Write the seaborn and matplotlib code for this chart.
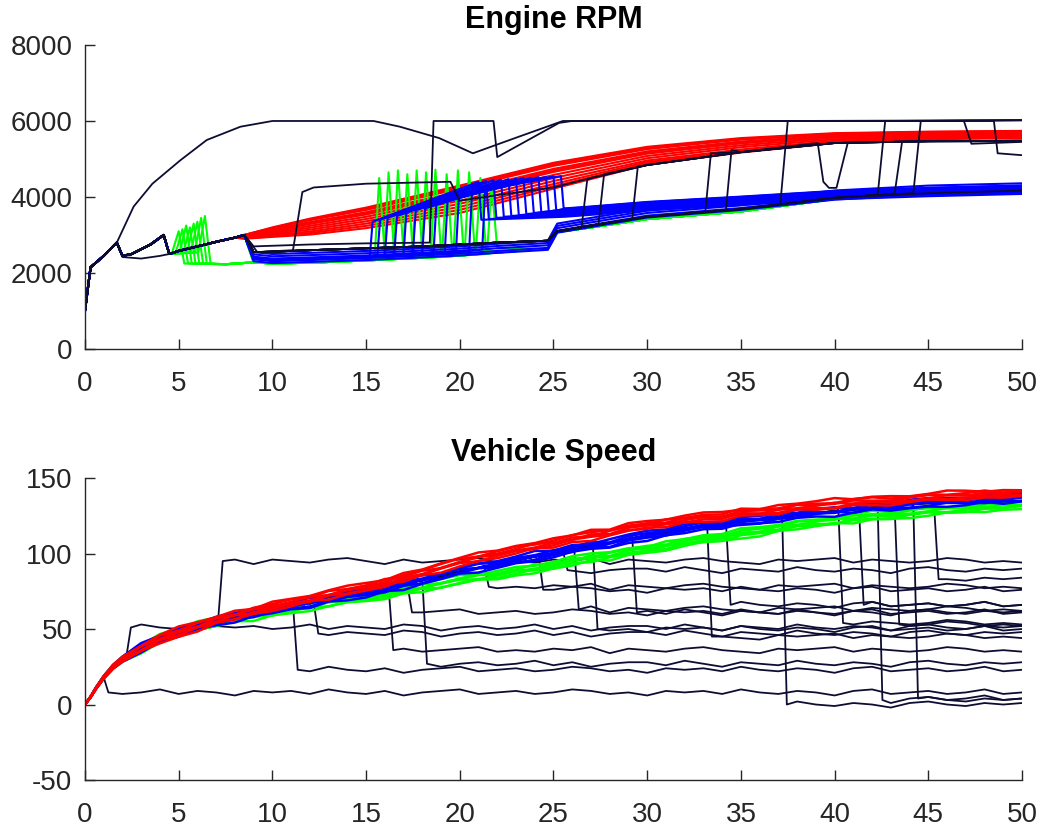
import pandas as pd
import seaborn as sns
import matplotlib.pyplot as plt

# ---------------- Engine RPM data ----------------
# shared launch path: gear 1 -> 2 -> 3
path_t = [0.0, 0.3, 1.0, 1.7, 2.0, 2.5, 3.5, 4.2, 4.5, 5.0, 6.0, 7.0, 8.0, 8.5]
path_rpm = [1000, 2150, 2450, 2800, 2450, 2500, 2750, 3000, 2500, 2580, 2700, 2820, 2930, 3000]

# gear 4 band
low_t = [9.0, 10, 12, 15, 18, 20, 22, 24.7, 25.2, 27, 30, 35, 40, 45, 50]
low_green = [2280, 2250, 2270, 2330, 2400, 2460, 2540, 2640, 3080, 3200, 3420, 3620, 3950, 4080, 4140]
low_blue = [2400, 2350, 2380, 2430, 2500, 2550, 2620, 2700, 3150, 3300, 3550, 3750, 4020, 4150, 4210]
low_dark = [2550, 2560, 2600, 2650, 2700, 2750, 2800, 2850, 3100, 3250, 3480, 3680, 3980, 4100, 4170]
low_blue_off = [-90, -40, 30, 90, 150]

# blue runs after the kick-down return
ret_t = [25.6, 27, 30, 35, 40, 45, 50]
ret_blue = [3650, 3700, 3820, 3960, 4110, 4190, 4250]
ret_off = [-170, -140, -110, -80, -50, -20, 0, 10, 20, 30, 40, 50]

# red runs that stay in gear 3
red_t = [8.5, 10, 12, 15, 20, 25, 30, 35, 40, 45, 50]
red_rpm = [
    [3000, 3200, 3430, 3720, 4300, 4900, 5320, 5550, 5680, 5720, 5740],
    [3000, 3185, 3410, 3690, 4260, 4860, 5290, 5530, 5665, 5710, 5730],
    [3000, 3170, 3390, 3660, 4220, 4820, 5260, 5510, 5650, 5700, 5720],
    [2990, 3140, 3340, 3600, 4140, 4740, 5200, 5460, 5620, 5680, 5700],
    [2985, 3125, 3315, 3570, 4100, 4700, 5170, 5435, 5605, 5665, 5690],
    [2980, 3110, 3290, 3540, 4060, 4660, 5140, 5410, 5590, 5650, 5680],
    [2970, 3080, 3240, 3480, 3980, 4580, 5080, 5360, 5560, 5620, 5650],
    [2960, 3050, 3190, 3420, 3900, 4500, 5020, 5310, 5520, 5590, 5620],
    [2940, 3020, 3140, 3360, 3820, 4420, 4960, 5250, 5480, 5560, 5600],
    [2920, 2990, 3090, 3300, 3740, 4340, 4920, 5210, 5450, 5540, 5570],
    [2910, 2970, 3050, 3240, 3660, 4280, 4880, 5190, 5430, 5530, 5560],
    [2900, 2950, 3010, 3180, 3580, 4220, 4850, 5170, 5420, 5520, 5550],
]

# green saw-tooth shifts
green_early_t = [5.0, 5.2, 5.4, 5.6, 5.8, 6.0, 6.2, 6.4]
green_early_peak = [3100, 3150, 3250, 3200, 3300, 3350, 3450, 3500]
green_mid_t = [15.7, 16.2, 16.7, 17.2, 17.7, 18.2, 18.7, 19.3, 19.9, 20.5, 21.1, 21.7]
green_mid_peak = [4500, 4650, 4700, 4600, 4700, 4650, 4720, 4600, 4700, 4650, 4500, 4300]
green_mid_base = [2350, 2360, 2370, 2380, 2390, 2400, 2410, 2420, 2440, 2460, 2480, 2500]

# blue kick-downs
blue_up_t = [15.2, 15.6, 16.0, 16.5, 17.0, 17.5, 18.0, 18.6, 19.2, 19.8, 20.5, 21.2]
blue_up_from = [2440, 2450, 2460, 2470, 2490, 2510, 2530, 2550, 2560, 2580, 2600, 2620]
blue_up_to = [3350, 3400, 3450, 3500, 3600, 3650, 3700, 3800, 3900, 4000, 4100, 4200]
blue_down_t = [21.0, 21.4, 21.8, 22.2, 22.6, 23.0, 23.4, 23.8, 24.2, 24.6, 25.0, 25.4]
blue_top = [4400, 4420, 4440, 4450, 4470, 4480, 4500, 4500, 4520, 4530, 4540, 4550]
blue_down_to = [3400, 3420, 3450, 3480, 3500, 3520, 3550, 3580, 3600, 3620, 3640, 3660]

# dark runs
edge_t = [25, 27, 30, 35, 40, 45, 50]
edge_rpm = [4250, 4500, 4840, 5180, 5420, 5470, 5480]
arc_t = [2.6, 3.6, 5.1, 6.5, 8.3, 10.0, 15.4, 16.8, 18.9, 20.7, 23.0, 25.5, 48.5, 48.7, 50]
arc_rpm = [3750, 4350, 4970, 5500, 5850, 6000, 6000, 5850, 5550, 5150, 5560, 6000, 6000, 5150, 5100]
jump_t = [26.5, 27.4, 29.2, 33.1, 34.2]
jump_from = [3200, 3270, 3420, 3600, 3650]
jump_to = [4450, 4600, 4800, 5150, 5240]

# ---------------- Vehicle speed data ----------------
sp_t = [0, 0.3, 0.6, 1, 1.5, 2, 3, 4, 5, 6, 7, 8, 9, 10, 11, 12, 13, 14, 15, 16, 17, 18,
        19, 20, 21, 22, 23, 24, 25, 26, 27, 28, 29, 30, 31, 32, 33, 34, 35, 36, 37, 38,
        39, 40, 41, 42, 43, 44, 45, 46, 47, 48, 49, 50]
red_speed = [0, 5, 11, 18, 25, 30, 37, 43, 48, 52, 56, 59, 62, 65, 67.5, 70, 72.5, 75, 78,
             81, 84, 87.5, 91, 94, 97, 100, 102.5, 105, 107, 109.5, 112, 114.5, 117, 119,
             120.5, 122, 123.5, 125, 127, 128, 129, 130.5, 131.5, 133, 134, 134.5, 135.5,
             136, 137, 138, 138.5, 139, 139.5, 140]
blue_speed = [0, 5, 11, 18, 25, 30, 37, 43, 48, 52, 55, 58, 60.5, 63, 65, 67, 69.5, 71.5,
              74, 77, 79.5, 82.5, 85, 88, 90.5, 93, 95.5, 98, 100, 102.5, 105, 107, 109.5,
              112, 114, 116, 118, 119.5, 121, 122.5, 124, 125.5, 127, 128, 129, 130.5,
              131.5, 132.5, 133, 134, 134.5, 135.5, 136, 137]
green_speed = [0, 5, 11, 18, 25, 30, 37, 43, 48, 52, 55, 57, 59, 61, 63, 65, 67, 69, 71,
               73.5, 75.5, 77.5, 80, 82, 84, 86, 88, 90, 92, 94.5, 97, 99, 101, 103, 105,
               107, 109, 111, 113, 115, 117, 118.5, 120, 121.5, 123, 124.5, 125.5, 126.5,
               127.5, 128.5, 129.5, 130.5, 131.5, 132.5]
band_off = [2.5, 1.5, 0.5, -0.5, -1.5, -2.5]

drop_t = [1.0, 2.2, 7.1, 11.1, 12.2, 16.2, 17.2, 18.0, 21.3, 24.2, 25.5, 26.1,
          27.1, 29.2, 33.2, 34.2, 37.2, 40.2, 41.3, 42.3, 43.2, 44.2, 45.3]
drop_from = [18, 31, 55, 66, 68, 78, 80, 83, 92, 99, 102, 104,
             106, 111, 119, 121, 126, 129, 130, 131, 132, 132, 133]
drop_level = [8, 51, 95, 23, 47, 36, 61, 27, 78, 76, 89, 63,
              50, 61, 45, 66, 0, 54, 66, 3, 53, 4, 83]
sec = list(range(51))
wig_a = [0, 1, -1, 0, 2, -1, 1, 0, -2, 1, 0, 1, -1, 2, 0, -1, 1, -2, 0, 1, 2, -1, 0, 1, -1,
         0, 2, 1, -1, 0, -2, 1, 0, 1, -1, 2, 0, -1, 1, 0, -2, 1, 2, -1, 0, 1, -1, 0, 2, -1, 0]
wig_b = [1, -1, 0, 2, 0, -1, -2, 1, 0, 1, -1, 0, 2, -1, 1, 0, -1, 2, 1, -2, 0, 1, -1, 0, 2,
         -1, 1, -2, 0, 1, 1, -1, 2, 0, -2, 1, 0, -1, 2, 0, -1, 1, 0, -2, 1, 2, 0, -1, 1, 0, 1]
wig_c = [-1, 0, 1, -1, 1, 2, 0, -1, 1, -2, 1, 0, -1, 1, 2, 0, -2, 1, -1, 0, 1, 2, -1, 0, -1,
         1, 0, 2, -2, 1, 0, -1, 1, 2, 0, -1, -2, 1, 0, 1, 2, -1, 1, 0, -1, 0, 2, 1, -1, 0, -1]
wiggles = [wig_a, wig_b, wig_c]

colors = {'dark': '#0d0d33', 'red': '#ff0000', 'green': '#00ff00', 'blue': '#0000ff'}

rows = []


def add(panel, kind, xs, ys):
    rows.append(pd.DataFrame({'panel': panel, 'kind': kind, 'run': f'{panel}{len(rows)}',
                              'x': list(xs), 'y': list(ys)}))


def part(ts, vs, lo, hi):
    pts = [(t, v) for t, v in zip(ts, vs) if lo < t < hi]
    return [p[0] for p in pts], [p[1] for p in pts]


# ---- RPM lines ----
for row in red_rpm:
    add('rpm', 'red', path_t[:-1] + red_t, path_rpm[:-1] + row)

for i in range(len(green_mid_t)):
    if i < len(green_early_t):
        te = green_early_t[i]
        xs = path_t[:9] + [te - 0.35, te, te + 0.3, 7.5]
        ys = path_rpm[:9] + [2540, green_early_peak[i], 2250, 2230]
    else:
        xs = path_t[:]
        ys = path_rpm[:]
    tm = green_mid_t[i]
    a, b = part(low_t, low_green, 0, tm - 0.25)
    c, d = part(low_t, low_green, tm + 0.3, 99)
    add('rpm', 'green', xs + a + [tm - 0.25, tm, tm + 0.3] + c,
        ys + b + [green_mid_base[i], green_mid_peak[i], green_mid_base[i] + 150] + d)

for o in low_blue_off:
    add('rpm', 'blue', path_t + low_t, path_rpm + [v + o for v in low_blue])
for i in range(len(blue_up_t)):
    tu, td = blue_up_t[i], blue_down_t[i]
    a, b = part(low_t, low_blue, 0, tu)
    c, d = part(ret_t, ret_blue, td + 0.2, 99)
    add('rpm', 'blue', path_t + a + [tu, tu + 0.15, td, td + 0.15] + c,
        path_rpm + b + [blue_up_from[i], blue_up_to[i], blue_top[i], blue_down_to[i]]
        + [v + ret_off[i] for v in d])

# dark runs
add('rpm', 'dark', path_t[:4] + arc_t, path_rpm[:4] + arc_rpm)
e_t, e_v = part(edge_t, edge_rpm, 22.5, 99)
add('rpm', 'dark', path_t[:4] + [2.0, 3.0, 4.0, 4.5] + path_t[9:] +
    [9.2, 11.1, 11.6, 12.2, 15, 19.5, 20.0, 22] + e_t,
    path_rpm[:4] + [2420, 2380, 2450, 2500] + path_rpm[9:] +
    [2550, 2600, 4130, 4250, 4350, 4400, 3900, 4050] + e_v)
add('rpm', 'dark', path_t + [9.0, 12, 15, 18.4, 18.6, 21.8, 22.0, 25.3, 26, 46.9, 47.3, 50],
    path_rpm + [2700, 2750, 2780, 2800, 6000, 6000, 5050, 5950, 6000, 6000, 5400, 5450])
for i in range(len(jump_t)):
    t = jump_t[i]
    a, b = part(low_t, low_dark, 0, t)
    if i == 0:
        c, d = part(edge_t, edge_rpm, t + 0.3, 39.1)
        c += [39.1, 39.4, 39.7, 40.1, 40.7, 45, 50]
        d += [5420, 4400, 4240, 4240, 5420, 5470, 5480]
    else:
        c, d = part(edge_t, edge_rpm, t + 0.3, 99)
    add('rpm', 'dark', path_t + a + [t, t + 0.3] + c, path_rpm + b + [jump_from[i], jump_to[i]] + d)
for t, v0, v1 in [(37.1, 3800, 6000), (42.3, 4060, 6000), (43.2, 4080, 5450), (44.2, 4100, 6000)]:
    a, b = part(low_t, low_dark, 0, t)
    add('rpm', 'dark', path_t + a + [t, t + 0.4, 50], path_rpm + b + [v0, v1, v1 + 20])
add('rpm', 'dark', path_t + low_t, path_rpm + low_dark)

# ---- speed lines ----
for i in range(len(drop_t)):
    t, w = drop_t[i], wiggles[i % 3]
    a, b = part(sp_t, blue_speed, -1, t)
    xs = a + [t, t + 0.25]
    ys = b + [drop_from[i], drop_level[i]]
    for s in sec:
        if s > t + 0.6:
            xs.append(s)
            ys.append(drop_level[i] + w[s])
    add('speed', 'dark', xs, ys)
for k, (kind, base) in enumerate([('green', green_speed), ('blue', blue_speed),
                                  ('red', red_speed)]):
    for j, o in enumerate(band_off):
        w = wiggles[(j + k) % 3]
        ys = [v + o + 0.6 * w[int(t)] if t >= 3 else v + o * t / 3 for t, v in zip(sp_t, base)]
        add('speed', kind, sp_t, ys)

df = pd.concat(rows, ignore_index=True)
rpm = df[df.panel == 'rpm']
speed = df[df.panel == 'speed']

sns.set_style('white')
plt.rcParams['font.family'] = ['Liberation Sans', 'DejaVu Sans']
plt.rcParams['axes.unicode_minus'] = False

fig = plt.figure(figsize=(10.45, 8.27), dpi=100)
ax1 = fig.add_axes([0.0813, 0.578, 0.8967, 0.3676])
ax2 = fig.add_axes([0.0813, 0.0568, 0.8967, 0.3652])

sns.lineplot(data=rpm[rpm.kind != 'dark'], x='x', y='y', units='run', estimator=None,
             hue='kind', hue_order=['red', 'green', 'blue'], palette=colors,
             sort=False, legend=False, linewidth=1.5, ax=ax1)
sns.lineplot(data=rpm[rpm.kind == 'dark'], x='x', y='y', units='run', estimator=None,
             color=colors['dark'], sort=False, legend=False, linewidth=1.3, ax=ax1)
sns.lineplot(data=speed[speed.kind == 'dark'], x='x', y='y', units='run', estimator=None,
             color=colors['dark'], sort=False, legend=False, linewidth=1.3, ax=ax2)
sns.lineplot(data=speed[speed.kind != 'dark'], x='x', y='y', units='run', estimator=None,
             hue='kind', hue_order=['green', 'blue', 'red'], palette=colors,
             sort=False, legend=False, linewidth=1.8, ax=ax2)

for ax, title, ylim, yticks in [(ax1, 'Engine RPM', (0, 8000), range(0, 8001, 2000)),
                                (ax2, 'Vehicle Speed', (-50, 150), range(-50, 151, 50))]:
    ax.set_xlim(0, 50)
    ax.set_ylim(*ylim)
    ax.set_xticks(range(0, 51, 5))
    ax.set_yticks(list(yticks))
    ax.set_xlabel('')
    ax.set_ylabel('')
    ax.set_title(title, fontsize=22, weight='bold', color='black', pad=12)
    for s in ['top', 'right']:
        ax.spines[s].set_visible(False)
    for s in ['left', 'bottom']:
        ax.spines[s].set_color('#262626')
        ax.spines[s].set_linewidth(1.0)
    ax.tick_params(direction='in', length=7, width=1, labelsize=20, colors='#262626',
                   left=True, bottom=True)
    ax.tick_params(axis='x', pad=16)
    ax.tick_params(axis='y', pad=9)

plt.savefig('out.png', dpi=100)
